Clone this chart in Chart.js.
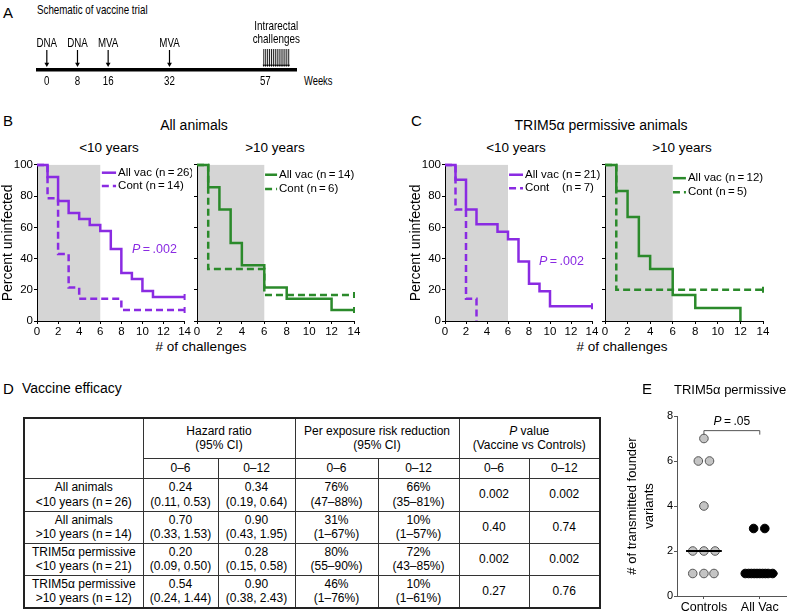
<!DOCTYPE html>
<html>
<head>
<meta charset="utf-8">
<title>Vaccine trial</title>
<script src="https://cdn.jsdelivr.net/npm/chart.js@4.4.1/dist/chart.umd.min.js"></script>
<style>
    html, body { margin: 0; padding: 0; background: #fff; }
    #page { position: relative; width: 794px; height: 613px; overflow: hidden;
            font-family: "Liberation Sans", Arial, sans-serif; color: #000; }
    .box { position: absolute; }
    .t { position: absolute; white-space: nowrap; line-height: 1; }
    .c { transform: translate(-50%, -50%); }
    .l { transform: translateY(-50%); }
    .letter { font-size: 15px; }
    .narrow { transform: translateY(-50%) scaleX(0.75); transform-origin: left center; }
    #efficacy { position: absolute; left: 23px; top: 417px; width: 576px; border-collapse: collapse;
                table-layout: fixed; font-size: 12px; border: 2px solid #222; }
    #efficacy td { border: 1px solid #333; text-align: center; vertical-align: middle; padding: 0; line-height: 1.2; }
</style>
</head>
<body>
<div id="page">
    <div class="t l letter" style="left:3px;top:12px;">A</div>
    <div class="t narrow" style="left:37px;top:9px;font-size:13px;">Schematic of vaccine trial</div>
    <div class="t narrow" style="left:304px;top:81px;font-size:12.5px;">Weeks</div>
    <div class="box" style="left:0;top:0;width:340px;height:95px;"><canvas id="timeline"></canvas></div>

    <div class="t l letter" style="left:3px;top:120px;">B</div>
    <div class="t c" style="left:194px;top:125px;font-size:14px;">All animals</div>
    <div class="t c" style="left:109px;top:148px;font-size:13.5px;">&lt;10 years</div>
    <div class="t c" style="left:275px;top:148px;font-size:13.5px;">&gt;10 years</div>
    <div class="t c" style="left:201px;top:347px;font-size:13.5px;"># of challenges</div>
    <div class="box" style="left:0;top:157px;width:192px;height:184px;"><canvas id="all_young"></canvas></div>
    <div class="box" style="left:190px;top:157px;width:172px;height:184px;"><canvas id="all_old"></canvas></div>

    <div class="t l letter" style="left:411px;top:120px;">C</div>
    <div class="t c" style="left:601px;top:125px;font-size:14px;">TRIM5α permissive animals</div>
    <div class="t c" style="left:516px;top:148px;font-size:13.5px;">&lt;10 years</div>
    <div class="t c" style="left:682px;top:148px;font-size:13.5px;">&gt;10 years</div>
    <div class="t c" style="left:622px;top:347px;font-size:13.5px;"># of challenges</div>
    <div class="box" style="left:400px;top:157px;width:200px;height:184px;"><canvas id="trim_young"></canvas></div>
    <div class="box" style="left:598px;top:157px;width:175px;height:184px;"><canvas id="trim_old"></canvas></div>

    <div class="t l letter" style="left:3px;top:388px;">D</div>
    <div class="t l" style="left:22px;top:388px;font-size:14px;">Vaccine efficacy</div>
    <table id="efficacy"></table>

    <div class="t l letter" style="left:642px;top:388px;">E</div>
    <div class="t l" style="left:674px;top:389px;font-size:13px;">TRIM5α permissive</div>
    <div class="box" style="left:620px;top:400px;width:172px;height:213px;"><canvas id="founders"></canvas></div>
</div>

<script>
// ---- A : schedule ----
var scheduleTicks = [0, 8, 16, 32, 57];
var doseWeeks = [0, 8, 16, 32];
var doseNames = ["DNA", "DNA", "MVA", "MVA"];
var challengeMarks = [56.6, 57.1, 57.6, 58.1, 58.6, 59.1, 59.6, 60.1, 60.6, 61.1, 61.6, 62.1, 62.6, 63.1];

// ---- B / C : percent uninfected by challenge ----
var challengeTicks = [0, 2, 4, 6, 8, 10, 12, 14];
var legendNames = ["All vac", "Cont"];

var allYoungVacX = [0, 1, 2, 3, 4, 5, 6, 7, 8, 9, 10, 11, 14];
var allYoungVacY = [100, 92.3, 76.9, 69.2, 65.4, 61.5, 57.7, 46.2, 30.8, 26.9, 19.2, 15.4, 15.4];
var allYoungContX = [0, 1, 2, 3, 4, 8, 14];
var allYoungContY = [100, 78.6, 42.9, 21.4, 14.3, 7.1, 7.1];
var allYoungCounts = ["(n\u2009=\u200926)", "(n\u2009=\u200914)"];

var allOldVacX = [0, 1, 2, 3, 4, 6, 8, 12, 14];
var allOldVacY = [100, 85.7, 71.4, 50, 35.7, 21.4, 14.3, 7.1, 7.1];
var allOldContX = [0, 1, 6, 14];
var allOldContY = [100, 33.3, 16.7, 16.7];
var allOldCounts = ["(n\u2009=\u200914)", "(n\u2009=\u20096)"];

var trimYoungVacX = [0, 1, 2, 3, 5, 6, 7, 8, 9, 10, 14];
var trimYoungVacY = [100, 90.5, 71.4, 61.9, 57.1, 52.4, 38.1, 23.8, 19, 9.5, 9.5];
var trimYoungContX = [0, 1, 2, 3];
var trimYoungContY = [100, 71.4, 14.3, 0];
var trimYoungCounts = ["(n\u2009=\u200921)", "(n\u2009=\u20097)"];

var trimOldVacX = [0, 1, 2, 3, 4, 6, 8, 12];
var trimOldVacY = [100, 83.3, 66.7, 41.7, 33.3, 16.7, 8.3, 0];
var trimOldContX = [0, 1, 14];
var trimOldContY = [100, 20, 20];
var trimOldCounts = ["(n\u2009=\u200912)", "(n\u2009=\u20095)"];

// ---- D : table ----
var windows = ["0–6", "0–12"];
var tableGroups = [["All animals", "<10 years (n\u2009=\u200926)"], ["All animals", ">10 years (n\u2009=\u200914)"],
                   ["TRIM5α permissive", "<10 years (n\u2009=\u200921)"], ["TRIM5α permissive", ">10 years (n\u2009=\u200912)"]];
var hazardEarly = [["0.24", "(0.11, 0.53)"], ["0.70", "(0.33, 1.53)"], ["0.20", "(0.09, 0.50)"], ["0.54", "(0.24, 1.44)"]];
var hazardLate = [["0.34", "(0.19, 0.64)"], ["0.90", "(0.43, 1.95)"], ["0.28", "(0.15, 0.58)"], ["0.90", "(0.38, 2.43)"]];
var riskEarly = [["76%", "(47–88%)"], ["31%", "(1–67%)"], ["80%", "(55–90%)"], ["46%", "(1–76%)"]];
var riskLate = [["66%", "(35–81%)"], ["10%", "(1–57%)"], ["72%", "(43–85%)"], ["10%", "(1–61%)"]];
var pEarly = ["0.002", "0.40", "0.002", "0.27"];
var pLate = ["0.002", "0.74", "0.002", "0.76"];

// ---- E : founder variants ----
var groupPositions = [1, 2];
var groupNames = ["Controls", "All Vac"];
var controlX = [1, 0.9, 1.1, 1, 0.8, 1, 1.2, 0.8, 1, 1.18];
var controlY = [7, 6, 6, 4, 2, 2, 2, 1, 1, 1];
var vacX = [1.89, 2.09, 1.74, 1.8, 1.85, 1.9, 1.95, 2.0, 2.05, 2.1, 2.15, 2.23];
var vacY = [3, 3, 1, 1, 1, 1, 1, 1, 1, 1, 1, 1];
var controlMedian = 2;
var vacMedian = 1;

var FONT = '"Liberation Sans", Arial, sans-serif';
var PURPLE = "#8a2be2";
var GREEN = "#2b8a2b";

Chart.defaults.font.family = FONT;
Chart.defaults.color = "#000";
Chart.defaults.animation = false;
Chart.defaults.devicePixelRatio = 1;

function points(xs, ys) {
    return xs.map(function (x, i) { return {x: x, y: ys[i]}; });
}

function narrowText(ctx, text, x, y, size, k) {
    ctx.save();
    ctx.translate(x, y);
    ctx.scale(k, 1);
    ctx.font = size + "px " + FONT;
    ctx.textAlign = "center";
    ctx.textBaseline = "middle";
    ctx.fillText(text, 0, 0);
    ctx.restore();
}

function arrow(ctx, x, top, tip, width, head) {
    ctx.lineWidth = width;
    ctx.beginPath();
    ctx.moveTo(x, top);
    ctx.lineTo(x, tip - head);
    ctx.stroke();
    ctx.beginPath();
    ctx.moveTo(x - head * 0.8, tip - head * 1.4);
    ctx.lineTo(x + head * 0.8, tip - head * 1.4);
    ctx.lineTo(x, tip);
    ctx.closePath();
    ctx.fill();
}

//SCHEMA DU PROTOCOLE
var timelineMarks = {
    id: "timelineMarks",
    afterDraw: function (chart) {
        var x = chart.scales.x, a = chart.chartArea, ctx = chart.ctx;
        ctx.save();
        ctx.fillStyle = "#000";
        ctx.strokeStyle = "#000";
        scheduleTicks.forEach(function (w) {
            narrowText(ctx, String(w), x.getPixelForValue(w), a.bottom + 11, 13, 0.75);
        });
        doseWeeks.forEach(function (w, i) {
            var px = x.getPixelForValue(w);
            arrow(ctx, px, a.bottom - 20, a.bottom - 3, 1.2, 3);
            narrowText(ctx, doseNames[i], px, a.bottom - 27, 13, 0.75);
        });
        challengeMarks.forEach(function (w) {
            arrow(ctx, x.getPixelForValue(w), a.bottom - 21, a.bottom - 3, 0.9, 1.6);
        });
        var mid = (x.getPixelForValue(challengeMarks[0]) + x.getPixelForValue(challengeMarks[challengeMarks.length - 1])) / 2;
        narrowText(ctx, "Intrarectal", mid, a.bottom - 44, 13, 0.76);
        narrowText(ctx, "challenges", mid, a.bottom - 31, 13, 0.76);
        ctx.restore();
    }
};

function build_timeline() {
    new Chart(document.getElementById("timeline"), {
        type: "scatter",
        data: {datasets: [{data: []}]},
        options: {
            responsive: true,
            maintainAspectRatio: false,
            layout: {padding: {left: 38, right: 44, top: 0, bottom: 0}},
            plugins: {legend: {display: false}, tooltip: {enabled: false}},
            scales: {
                x: {
                    type: "linear", min: -2.3, max: 65,
                    ticks: {display: false},
                    grid: {display: false},
                    border: {display: true, width: 3.5, color: "#000"},
                    afterFit: function (scale) { scale.height = 25; }
                },
                y: {display: false, min: 0, max: 1}
            }
        },
        plugins: [timelineMarks]
    });
}

//COURBES DE SURVIE
var survivalDecor = {
    id: "survivalDecor",
    beforeDraw: function (chart, args, opts) {
        var x = chart.scales.x, a = chart.chartArea, ctx = chart.ctx;
        var x0 = x.getPixelForValue(opts.shadeFrom), x1 = x.getPixelForValue(opts.shadeTo);
        ctx.save();
        ctx.fillStyle = "#d5d5d5";
        ctx.fillRect(x0, a.top, x1 - x0, a.bottom - a.top);
        ctx.restore();
    },
    afterDatasetsDraw: function (chart, args, opts) {
        var x = chart.scales.x, y = chart.scales.y, ctx = chart.ctx;
        ctx.save();
        ctx.font = "11.5px " + FONT;
        ctx.textBaseline = "middle";
        var x0 = x.getPixelForValue(opts.legendX[0]), x1 = x.getPixelForValue(opts.legendX[1]);
        var nameW = Math.max.apply(null, legendNames.map(function (n) { return ctx.measureText(n + " ").width; }));
        chart.data.datasets.forEach(function (ds, i) {
            var yy = y.getPixelForValue(opts.legendY[i]);
            ctx.strokeStyle = ds.borderColor;
            ctx.lineWidth = ds.borderWidth;
            ctx.setLineDash(ds.borderDash || []);
            ctx.beginPath();
            ctx.moveTo(x0, yy);
            ctx.lineTo(x1, yy);
            ctx.stroke();
            ctx.fillStyle = "#000";
            ctx.fillText(legendNames[i], x1 + 2, yy);
            var cx = opts.alignCounts ? x1 + 2 + nameW : x1 + 2 + ctx.measureText(legendNames[i] + " ").width;
            ctx.fillText(opts.counts[i], cx, yy);
        });
        if (opts.pText) {
            var px = x.getPixelForValue(opts.pText[0]), py = y.getPixelForValue(opts.pText[1]);
            ctx.fillStyle = opts.pColor;
            ctx.font = "italic 12.5px " + FONT;
            ctx.fillText("P", px, py);
            var w = ctx.measureText("P").width;
            ctx.font = "12.5px " + FONT;
            ctx.fillText("\u2009=\u2009.002", px + w, py);
        }
        ctx.restore();
    }
};

function curve(xs, ys, color, dashed) {
    return {
        data: points(xs, ys),
        borderColor: color,
        backgroundColor: color,
        borderWidth: 2.5,
        borderDash: dashed ? [7, 4] : [],
        stepped: true,
        fill: false,
        clip: 6,
        pointStyle: "line",
        rotation: 90,
        pointBorderColor: color,
        pointBorderWidth: 2,
        pointRadius: function (c) {
            var last = c.dataIndex === c.dataset.data.length - 1;
            return last && c.raw.y > 0 ? 3 : 0;
        }
    };
}

function build_graph_survival(id, datasets, showY, yWidth, titlePad, decor) {
    new Chart(document.getElementById(id), {
        type: "line",
        data: {datasets: datasets},
        options: {
            responsive: true,
            maintainAspectRatio: false,
            layout: {padding: {left: 0, right: decor.padRight, top: 5, bottom: 0}},
            plugins: {legend: {display: false}, tooltip: {enabled: false}, survivalDecor: decor},
            scales: {
                x: {
                    type: "linear", min: 0, max: 14,
                    afterBuildTicks: function (scale) {
                        scale.ticks = challengeTicks.map(function (v) { return {value: v}; });
                    },
                    ticks: {font: {size: 11.5}, padding: 1, maxRotation: 0},
                    grid: {drawOnChartArea: false, tickLength: 3, color: "#000"},
                    border: {color: "#000", width: 1},
                    afterFit: function (scale) { scale.height = 20; }
                },
                y: {
                    min: 0, max: 100,
                    ticks: {
                        stepSize: 20, font: {size: 11.5}, padding: 1,
                        callback: function (v) { return showY ? String(v) : ""; }
                    },
                    grid: {drawOnChartArea: false, tickLength: 3, color: "#000"},
                    border: {color: "#000", width: 1},
                    title: {display: showY, text: "Percent uninfected", font: {size: 14}, padding: {top: titlePad, bottom: 0}},
                    afterFit: function (scale) { scale.width = yWidth; }
                }
            }
        },
        plugins: [survivalDecor]
    });
}

//TABLEAU D'EFFICACITE
function cell(row, lines, attrs) {
    var td = document.createElement("td");
    lines.forEach(function (line, i) {
        if (i > 0) td.appendChild(document.createElement("br"));
        if (typeof line === "string") td.appendChild(document.createTextNode(line));
        else td.appendChild(line);
    });
    for (var k in (attrs || {})) td.setAttribute(k, attrs[k]);
    row.appendChild(td);
    return td;
}

function build_table() {
    var table = document.getElementById("efficacy");
    var cg = document.createElement("colgroup");
    [119, 75, 77, 83, 81, 70, 71].forEach(function (w) {
        var col = document.createElement("col");
        col.style.width = w + "px";
        cg.appendChild(col);
    });
    table.appendChild(cg);

    var head = document.createElement("tr");
    head.style.height = "40px";
    cell(head, [""], {rowspan: 2});
    cell(head, ["Hazard ratio", "(95% CI)"], {colspan: 2});
    cell(head, ["Per exposure risk reduction", "(95% CI)"], {colspan: 2});
    var ital = document.createElement("span");
    var p = document.createElement("i");
    p.textContent = "P";
    ital.appendChild(p);
    ital.appendChild(document.createTextNode(" value"));
    cell(head, [ital, "(Vaccine vs Controls)"], {colspan: 2});
    table.appendChild(head);

    var sub = document.createElement("tr");
    sub.style.height = "20px";
    for (var j = 0; j < 3; j++) {
        cell(sub, [windows[0]]);
        cell(sub, [windows[1]]);
    }
    table.appendChild(sub);

    var heights = [33, 32, 32, 33];
    tableGroups.forEach(function (g, i) {
        var tr = document.createElement("tr");
        tr.style.height = heights[i] + "px";
        cell(tr, g);
        cell(tr, hazardEarly[i]);
        cell(tr, hazardLate[i]);
        cell(tr, riskEarly[i]);
        cell(tr, riskLate[i]);
        cell(tr, [pEarly[i]]);
        cell(tr, [pLate[i]]);
        table.appendChild(tr);
    });
}

//GRAPHIQUE VARIANTS FONDATEURS
var bracket = {
    id: "bracket",
    afterDatasetsDraw: function (chart, args, opts) {
        var x = chart.scales.x, y = chart.scales.y, ctx = chart.ctx;
        var x0 = x.getPixelForValue(groupPositions[0]), x1 = x.getPixelForValue(groupPositions[1]);
        var yb = y.getPixelForValue(opts.level);
        ctx.save();
        ctx.strokeStyle = "#555";
        ctx.lineWidth = 1;
        ctx.beginPath();
        ctx.moveTo(x0, yb + 4);
        ctx.lineTo(x0, yb);
        ctx.lineTo(x1, yb);
        ctx.lineTo(x1, yb + 4);
        ctx.stroke();
        var ty = y.getPixelForValue(opts.textLevel);
        ctx.fillStyle = "#000";
        ctx.textBaseline = "middle";
        ctx.font = "italic 12px " + FONT;
        var wP = ctx.measureText("P").width;
        ctx.font = "12px " + FONT;
        var rest = "\u2009=\u2009.05";
        var wR = ctx.measureText(rest).width;
        var sx = (x0 + x1) / 2 - (wP + wR) / 2;
        ctx.font = "italic 12px " + FONT;
        ctx.fillText("P", sx, ty);
        ctx.font = "12px " + FONT;
        ctx.fillText(rest, sx + wP, ty);
        ctx.restore();
    }
};

function build_graph_founders() {
    var medians = [
        {x: groupPositions[0] - 0.32, y: controlMedian}, {x: groupPositions[0] + 0.32, y: controlMedian}
    ];
    var medians2 = [
        {x: groupPositions[1] - 0.32, y: vacMedian}, {x: groupPositions[1] + 0.32, y: vacMedian}
    ];
    new Chart(document.getElementById("founders"), {
        type: "scatter",
        data: {
            datasets: [
                {data: medians, showLine: true, borderColor: "#000", borderWidth: 2, pointRadius: 0},
                {data: medians2, showLine: true, borderColor: "#000", borderWidth: 2, pointRadius: 0},
                {data: points(controlX, controlY), backgroundColor: "#c4c4c4", borderColor: "#555", borderWidth: 1, pointRadius: 4.3},
                {data: points(vacX, vacY), backgroundColor: "#000", borderColor: "#000", borderWidth: 1, pointRadius: 4.3}
            ]
        },
        options: {
            responsive: true,
            maintainAspectRatio: false,
            layout: {padding: {left: 0, right: 5, top: 16, bottom: 0}},
            plugins: {legend: {display: false}, tooltip: {enabled: false}, bracket: {level: 7.35, textLevel: 7.75}},
            scales: {
                x: {
                    type: "linear", min: 0.518, max: 2.482,
                    afterBuildTicks: function (scale) {
                        scale.ticks = groupPositions.map(function (v) { return {value: v}; });
                    },
                    ticks: {
                        font: {size: 12.5}, padding: 1, maxRotation: 0,
                        callback: function (v) { return groupNames[groupPositions.indexOf(v)]; }
                    },
                    grid: {drawOnChartArea: false, tickLength: 3, color: "#555"},
                    border: {color: "#555", width: 1},
                    afterFit: function (scale) { scale.height = 17; }
                },
                y: {
                    min: 0, max: 8,
                    ticks: {stepSize: 2, font: {size: 11}, padding: 1},
                    grid: {drawOnChartArea: false, tickLength: 3, color: "#555"},
                    border: {color: "#555", width: 1},
                    title: {display: true, text: ["# of transmitted founder", "variants"], font: {size: 13, lineHeight: 1.3}, padding: {top: 4, bottom: 0}},
                    afterFit: function (scale) { scale.width = 57; }
                }
            }
        },
        plugins: [bracket]
    });
}

build_timeline();

build_graph_survival("all_young",
    [curve(allYoungVacX, allYoungVacY, PURPLE, false), curve(allYoungContX, allYoungContY, PURPLE, true)],
    true, 37, 0,
    {shadeFrom: 0, shadeTo: 6, legendX: [6.15, 7.5], legendY: [95, 86.5], counts: allYoungCounts,
     alignCounts: false, pText: [9.0, 46], pColor: PURPLE, padRight: 7});

build_graph_survival("all_old",
    [curve(allOldVacX, allOldVacY, GREEN, false), curve(allOldContX, allOldContY, GREEN, true)],
    false, 7, 0,
    {shadeFrom: 0, shadeTo: 6, legendX: [6.07, 7.14], legendY: [93.7, 84.6], counts: allOldCounts,
     alignCounts: false, pText: null, padRight: 8});

build_graph_survival("trim_young",
    [curve(trimYoungVacX, trimYoungVacY, PURPLE, false), curve(trimYoungContX, trimYoungContY, PURPLE, true)],
    true, 45, 8,
    {shadeFrom: 0, shadeTo: 6, legendX: [6.1, 7.43], legendY: [93.7, 85], counts: trimYoungCounts,
     alignCounts: true, pText: [8.95, 38.4], pColor: PURPLE, padRight: 8});

build_graph_survival("trim_old",
    [curve(trimOldVacX, trimOldVacY, GREEN, false), curve(trimOldContX, trimOldContY, GREEN, true)],
    false, 7, 0,
    {shadeFrom: 0, shadeTo: 6, legendX: [6.02, 7.17], legendY: [91.5, 82.5], counts: trimOldCounts,
     alignCounts: false, pText: null, padRight: 10});

build_table();
build_graph_founders();
</script>
</body>
</html>
